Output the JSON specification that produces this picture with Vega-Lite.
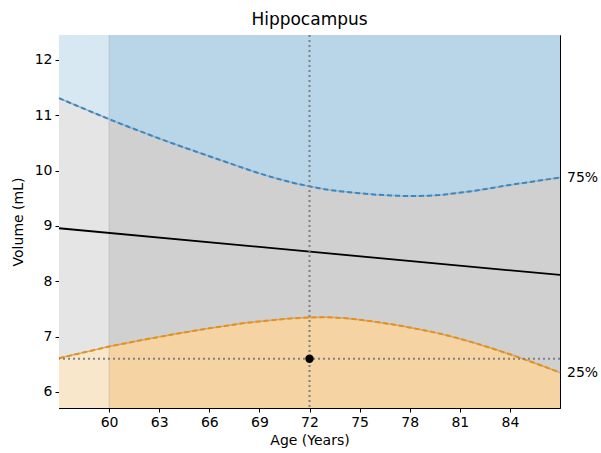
{
  "$schema": "https://vega.github.io/schema/vega-lite/v6.json",
  "width": 501,
  "height": 373,
  "autosize": {"type": "none"},
  "padding": {"left": 59, "top": 35, "right": 41, "bottom": 45},
  "background": "white",
  "title": {"text": "Hippocampus", "font": "DejaVu Sans", "fontSize": 17, "fontWeight": "normal", "color": "black", "offset": 5},
  "config": {
    "view": {"stroke": "black", "strokeWidth": 1},
    "axis": {"domainColor": "black", "tickColor": "black", "labelColor": "black", "titleColor": "black", "labelFont": "DejaVu Sans", "titleFont": "DejaVu Sans", "labelFontSize": 14, "titleFontSize": 14, "titleFontWeight": "normal", "tickSize": 4, "grid": false, "labelPadding": 3, "format": "d"}
  },
  "datasets": {
    "curves": [
      {"age": 57, "upper": 11.31, "lower": 6.61},
      {"age": 58, "upper": 11.18, "lower": 6.68},
      {"age": 59, "upper": 11.055, "lower": 6.75},
      {"age": 60, "upper": 10.93, "lower": 6.82},
      {"age": 61, "upper": 10.81, "lower": 6.88},
      {"age": 62, "upper": 10.695, "lower": 6.94},
      {"age": 63, "upper": 10.58, "lower": 6.995},
      {"age": 64, "upper": 10.47, "lower": 7.05},
      {"age": 65, "upper": 10.365, "lower": 7.10},
      {"age": 66, "upper": 10.26, "lower": 7.15},
      {"age": 67, "upper": 10.155, "lower": 7.195},
      {"age": 68, "upper": 10.05, "lower": 7.24},
      {"age": 69, "upper": 9.95, "lower": 7.275},
      {"age": 70, "upper": 9.86, "lower": 7.305},
      {"age": 71, "upper": 9.78, "lower": 7.33},
      {"age": 72, "upper": 9.715, "lower": 7.345},
      {"age": 73, "upper": 9.66, "lower": 7.35},
      {"age": 74, "upper": 9.62, "lower": 7.335},
      {"age": 75, "upper": 9.59, "lower": 7.305},
      {"age": 76, "upper": 9.565, "lower": 7.265},
      {"age": 77, "upper": 9.55, "lower": 7.22},
      {"age": 78, "upper": 9.54, "lower": 7.165},
      {"age": 79, "upper": 9.545, "lower": 7.105},
      {"age": 80, "upper": 9.565, "lower": 7.04},
      {"age": 81, "upper": 9.60, "lower": 6.96},
      {"age": 82, "upper": 9.64, "lower": 6.875},
      {"age": 83, "upper": 9.69, "lower": 6.78},
      {"age": 84, "upper": 9.74, "lower": 6.68},
      {"age": 85, "upper": 9.785, "lower": 6.575},
      {"age": 86, "upper": 9.83, "lower": 6.465},
      {"age": 87, "upper": 9.875, "lower": 6.35}
    ],
    "median": [
      {"age": 57, "vol": 8.958},
      {"age": 87, "vol": 8.114}
    ],
    "obs": [
      {"age": 72, "vol": 6.6}
    ],
    "labels": [
      {"age": 87, "vol": 9.875, "label": "75%"},
      {"age": 87, "vol": 6.35, "label": "25%"}
    ]
  },
  "layer": [
    {
      "data": {"name": "curves"},
      "mark": {"type": "area", "color": "#b9d5e8", "opacity": 1, "interpolate": "monotone"},
      "encoding": {
        "x": {"field": "age", "type": "quantitative", "scale": {"domain": [57, 87], "nice": false, "zero": false},
              "axis": {"title": "Age (Years)", "values": [60, 63, 66, 69, 72, 75, 78, 81, 84], "titlePadding": 4}},
        "y": {"field": "upper", "type": "quantitative", "scale": {"domain": [5.71, 12.45], "nice": false, "zero": false},
              "axis": {"title": "Volume (mL)", "values": [6, 7, 8, 9, 10, 11, 12], "titlePadding": 9}},
        "y2": {"datum": 12.45}
      }
    },
    {
      "data": {"name": "curves"},
      "mark": {"type": "area", "color": "#d0d0d0", "opacity": 1, "interpolate": "monotone"},
      "encoding": {
        "x": {"field": "age", "type": "quantitative"},
        "y": {"field": "lower", "type": "quantitative"},
        "y2": {"field": "upper"}
      }
    },
    {
      "data": {"name": "curves"},
      "mark": {"type": "area", "color": "#f5d3a3", "opacity": 1, "interpolate": "monotone"},
      "encoding": {
        "x": {"field": "age", "type": "quantitative"},
        "y": {"field": "lower", "type": "quantitative"},
        "y2": {"datum": 5.71}
      }
    },
    {
      "data": {"values": [{"a": 57, "b": 60}]},
      "mark": {"type": "rect", "color": "white", "opacity": 0.45},
      "encoding": {
        "x": {"field": "a", "type": "quantitative"},
        "x2": {"field": "b"}
      }
    },
    {
      "data": {"values": [{"b": 60}]},
      "mark": {"type": "rule", "color": "#9a9a9a", "opacity": 0.35, "strokeWidth": 1},
      "encoding": {
        "x": {"field": "b", "type": "quantitative"}
      }
    },
    {
      "data": {"name": "median"},
      "mark": {"type": "line", "color": "black", "strokeWidth": 1.8},
      "encoding": {
        "x": {"field": "age", "type": "quantitative"},
        "y": {"field": "vol", "type": "quantitative"}
      }
    },
    {
      "data": {"name": "curves"},
      "mark": {"type": "line", "color": "#9fb4c4", "strokeWidth": 1.5, "interpolate": "monotone"},
      "encoding": {
        "x": {"field": "age", "type": "quantitative"},
        "y": {"field": "upper", "type": "quantitative"}
      }
    },
    {
      "data": {"name": "curves"},
      "mark": {"type": "line", "color": "#3a88c2", "strokeWidth": 2, "strokeDash": [5, 3], "interpolate": "monotone"},
      "encoding": {
        "x": {"field": "age", "type": "quantitative"},
        "y": {"field": "upper", "type": "quantitative"}
      }
    },
    {
      "data": {"name": "curves"},
      "mark": {"type": "line", "color": "#c9a880", "strokeWidth": 1.5, "interpolate": "monotone"},
      "encoding": {
        "x": {"field": "age", "type": "quantitative"},
        "y": {"field": "lower", "type": "quantitative"}
      }
    },
    {
      "data": {"name": "curves"},
      "mark": {"type": "line", "color": "#e8900f", "strokeWidth": 2, "strokeDash": [5, 3], "interpolate": "monotone"},
      "encoding": {
        "x": {"field": "age", "type": "quantitative"},
        "y": {"field": "lower", "type": "quantitative"}
      }
    },
    {
      "data": {"name": "obs"},
      "mark": {"type": "rule", "color": "#808080", "strokeWidth": 2, "strokeDash": [2, 3]},
      "encoding": {
        "x": {"field": "age", "type": "quantitative"}
      }
    },
    {
      "data": {"name": "obs"},
      "mark": {"type": "rule", "color": "#808080", "strokeWidth": 2, "strokeDash": [2, 3]},
      "encoding": {
        "y": {"field": "vol", "type": "quantitative"}
      }
    },
    {
      "data": {"name": "obs"},
      "mark": {"type": "point", "filled": true, "color": "black", "opacity": 1, "size": 70},
      "encoding": {
        "x": {"field": "age", "type": "quantitative"},
        "y": {"field": "vol", "type": "quantitative"}
      }
    },
    {
      "data": {"name": "labels"},
      "mark": {"type": "text", "align": "left", "baseline": "middle", "dx": 7, "font": "DejaVu Sans", "fontSize": 14, "color": "black"},
      "encoding": {
        "x": {"field": "age", "type": "quantitative"},
        "y": {"field": "vol", "type": "quantitative"},
        "text": {"field": "label"}
      }
    }
  ]
}
